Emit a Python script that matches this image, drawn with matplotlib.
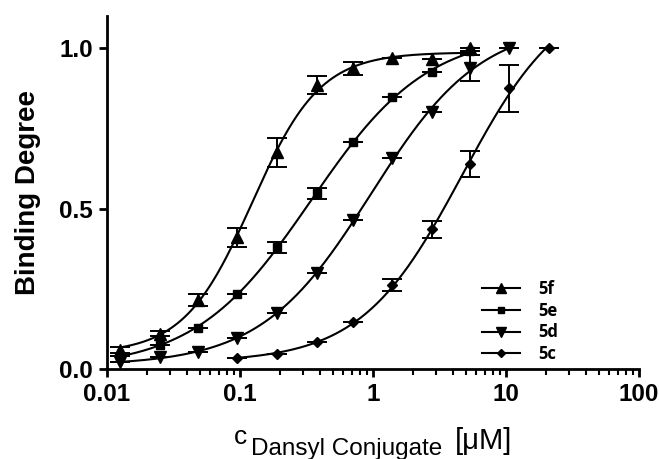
import numpy as np
import matplotlib
matplotlib.use("Agg")
import matplotlib.pyplot as plt
from matplotlib.ticker import LogLocator, FixedLocator, NullFormatter

# ---- data ----
conc = [0.0125, 0.025, 0.048, 0.095, 0.19, 0.38, 0.71, 1.4, 2.8, 5.4, 10.5, 21.0]

x_5f = conc[:10]
y_5f = [0.06, 0.11, 0.215, 0.41, 0.676, 0.885, 0.937, 0.968, 0.965, 1.0]
e_5f = [0.01, 0.008, 0.018, 0.03, 0.045, 0.027, 0.02, 0.0, 0.0, 0.0]

x_5e = conc[:10]
y_5e = [0.04, 0.075, 0.128, 0.233, 0.38, 0.548, 0.707, 0.848, 0.924, 0.99]
e_5e = [0.0, 0.0, 0.0, 0.0, 0.017, 0.017, 0.0, 0.0, 0.0, 0.0]

x_5d = conc[:11]
y_5d = [0.022, 0.037, 0.053, 0.096, 0.174, 0.30, 0.464, 0.657, 0.80, 0.937, 1.0]
e_5d = [0.0, 0.0, 0.0, 0.0, 0.0, 0.0, 0.0, 0.0, 0.0, 0.04, 0.0]

x_5c = conc[3:]
y_5c = [0.034, 0.046, 0.085, 0.147, 0.262, 0.435, 0.638, 0.875, 1.0]
e_5c = [0.0, 0.0, 0.0, 0.0, 0.02, 0.027, 0.04, 0.073, 0.0]

labels = ["5f", "5e", "5d", "5c"]
markers = ["^", "s", "v", "D"]
msizes = [8.5, 5.5, 8.5, 5.5]

x_ticks = [0.01, 0.1, 1, 10, 100]
x_ticklabels = ["0.01", "0.1", "1", "10", "100"]
y_ticks = [0.0, 0.5, 1.0]
y_ticklabels = ["0.0", "0.5", "1.0"]


def fit_4pl(x, y):
    lx = np.log10(np.asarray(x, float))
    y = np.asarray(y, float)
    best = None
    for h in np.arange(0.5, 3.0, 0.01):
        lec = np.arange(-2.5, 2.5, 0.005)
        s = 1.0 / (1.0 + 10 ** ((lec[:, None] - lx[None, :]) * h))
        n = len(lx)
        S1 = s.sum(1); S2 = (s * s).sum(1)
        Y1 = y.sum(); YS = (s * y).sum(1)
        det = n * S2 - S1 ** 2
        a = (n * YS - S1 * Y1) / det
        b = (Y1 - a * S1) / n
        res = ((b[:, None] + a[:, None] * s - y[None, :]) ** 2).sum(1)
        i = np.argmin(res)
        if best is None or res[i] < best[0]:
            best = (res[i], lec[i], h, b[i], a[i])
    _, lec, h, b, a = best
    return lambda xx: b + a / (1.0 + 10 ** ((lec - np.log10(xx)) * h))


fig = plt.figure(figsize=(6.59, 4.59), dpi=100)
ax = fig.add_axes([107 / 659, 90 / 459, 532 / 659, 353 / 459])

series = [(x_5f, y_5f, e_5f), (x_5e, y_5e, e_5e), (x_5d, y_5d, e_5d), (x_5c, y_5c, e_5c)]
handles = []
for (xs, ys, es), lab, mk, ms in zip(series, labels, markers, msizes):
    f = fit_4pl(xs, ys)
    xx = np.logspace(np.log10(xs[0]), np.log10(xs[-1]), 300)
    ax.plot(xx, f(xx), color="black", lw=1.5, zorder=2)
    ax.errorbar(xs, ys, yerr=es, fmt="none", ecolor="black", elinewidth=1.4,
                capsize=7.5, capthick=1.4, zorder=3)
    ax.plot(xs, ys, linestyle="none", marker=mk, ms=ms, color="black", zorder=4)
    h, = ax.plot([], [], color="black", lw=1.5, marker=mk, ms=ms * 0.8)
    handles.append(h)

ax.set_xscale("log")
ax.set_xlim(0.01, 100)
ax.set_ylim(0, 1.1)
ax.spines["top"].set_visible(False)
ax.spines["right"].set_visible(False)
ax.spines["left"].set_linewidth(2)
ax.spines["bottom"].set_linewidth(2)

ax.xaxis.set_major_locator(FixedLocator(x_ticks))
ax.set_xticklabels(x_ticklabels)
ax.xaxis.set_minor_locator(LogLocator(base=10, subs=np.arange(2, 10)))
ax.xaxis.set_minor_formatter(NullFormatter())
ax.set_yticks(y_ticks)
ax.set_yticklabels(y_ticklabels)

for lab in ax.get_xticklabels() + ax.get_yticklabels():
    lab.set_fontfamily("Liberation Sans")
    lab.set_fontweight("bold")
    lab.set_fontsize(17.5)
ax.tick_params(which="major", length=6, width=2, direction="out", pad=4)
ax.tick_params(which="minor", length=4, width=1.5, direction="out")

ax.set_ylabel("Binding Degree", fontfamily="Liberation Sans", fontweight="bold",
              fontsize=20, labelpad=13)

# x label: "c" + lowered "Dansyl Conjugate" + "[μM]"
fig.text(234 / 659, 1 - 444 / 459, "c", fontfamily="Liberation Sans", fontsize=19,
         ha="left", va="baseline")
fig.text(251 / 659, 1 - 455 / 459, "Dansyl Conjugate", fontfamily="Liberation Sans",
         fontsize=17.5, ha="left", va="baseline")
fig.text(455 / 659, 1 - 449 / 459, "[μM]", fontfamily="Liberation Sans", fontsize=21,
         ha="left", va="baseline")

leg = ax.legend(handles, labels, loc="upper left", bbox_to_anchor=(0.705, 0.252),
                frameon=False, borderaxespad=0, borderpad=0, handlelength=2.3,
                handletextpad=1.1, labelspacing=0.22,
                prop={"family": "Open Sans", "weight": "bold", "size": 12})

fig.savefig("out.png", dpi=100)
